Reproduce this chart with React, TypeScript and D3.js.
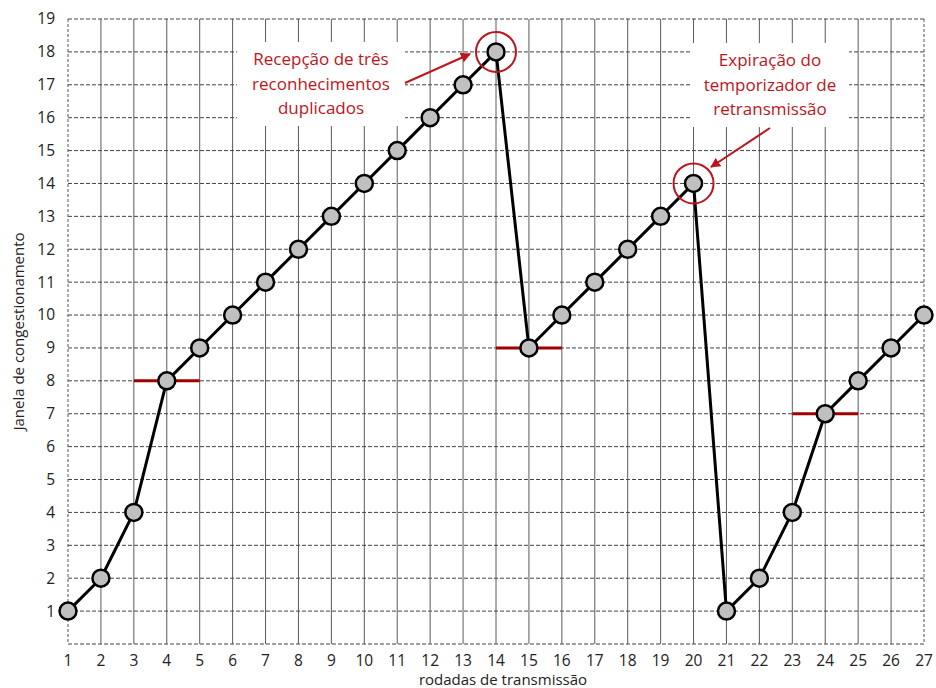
import React from "react";
import * as d3 from "d3";

const rounds = d3.range(1, 28);
const cwnd = [1, 2, 4, 8, 9, 10, 11, 12, 13, 14, 15, 16, 17, 18, 9, 10, 11, 12, 13, 14, 1, 2, 4, 7, 8, 9, 10];
const thresholds = [
  { from: 3, to: 5, value: 8 },
  { from: 14, to: 16, value: 9 },
  { from: 23, to: 25, value: 7 },
];
const yTicks = d3.range(1, 20);
const xTicks = d3.range(1, 28);
const notes = [
  { lines: ["Recepção de três", "reconhecimentos", "duplicados"], round: 14, cx: 321, cy: 84, bw: 168, from: [405, 83], to: [470, 54] },
  { lines: ["Expiração do", "temporizador de", "retransmissão"], round: 20, cx: 770, cy: 85, bw: 158, from: [770, 128], to: [711, 167] },
];

const W = 936, H = 688;
const x = d3.scaleLinear().domain([1, 27]).range([68, 924]);
const y = d3.scaleLinear().domain([0, 19]).range([644, 19]);
const font = "Open Sans, Liberation Sans, sans-serif";
const red = "#c0141c";

export default function App() {
  const line = d3.line<number>().x((_, i) => x(rounds[i])).y((d) => y(d));
  return (
    <svg width={W} height={H} style={{ position: "absolute", left: 0, top: 0, background: "#fff" }} fontFamily={font}>
      <defs>
        <marker id="ah" viewBox="0 0 10 10" refX="9" refY="5" markerWidth="5" markerHeight="5" orient="auto">
          <path d="M0,0 L10,5 L0,10 z" fill={red} />
        </marker>
      </defs>
      {xTicks.map((t) => (
        <line key={"v" + t} x1={x(t)} x2={x(t)} y1={y(19)} y2={y(0)} stroke={t === 1 || t === 27 ? "#555" : "#333"} strokeWidth={1}
          strokeDasharray={t === 1 || t === 27 ? "3,2" : undefined} opacity={t === 1 || t === 27 ? 1 : 0.8} />
      ))}
      {[0, ...yTicks].map((t) => (
        <line key={"h" + t} x1={x(1)} x2={x(27)} y1={y(t)} y2={y(t)} stroke="#444" strokeWidth={1} strokeDasharray="4,2" />
      ))}
      {yTicks.map((t) => (
        <text key={"yl" + t} x={55} y={y(t)} dy="0.35em" textAnchor="end" fontSize={15.5} fill="#222">{t}</text>
      ))}
      {xTicks.map((t) => (
        <text key={"xl" + t} x={x(t)} y={661} dy="0.35em" textAnchor="middle" fontSize={15.5} fill="#222">{t}</text>
      ))}
      <text x={503} y={680} dy="0.35em" textAnchor="middle" fontSize={15} fill="#222">rodadas de transmissão</text>
      <text transform={`translate(19,${y(9.5)}) rotate(-90)`} dy="0.35em" textAnchor="middle" fontSize={15} fill="#222">Janela de congestionamento</text>
      {thresholds.map((t, i) => (
        <line key={"th" + i} x1={x(t.from)} x2={x(t.to)} y1={y(t.value)} y2={y(t.value)} stroke="#a00000" strokeWidth={3} />
      ))}
      {notes.map((n, i) => (
        <g key={"n" + i}>
          <rect x={n.cx - n.bw / 2} y={n.cy - 42} width={n.bw} height={84} fill="#fff" />
          {n.lines.map((l, j) => (
            <text key={j} x={n.cx} y={n.cy + (j - 1) * 24.5} dy="0.35em" textAnchor="middle" fontSize={17} fill={red}>{l}</text>
          ))}
        </g>
      ))}
      <path d={line(cwnd) || ""} fill="none" stroke="#000" strokeWidth={3} strokeLinejoin="round" />
      {cwnd.map((v, i) => (
        <circle key={"p" + i} cx={x(rounds[i])} cy={y(v)} r={8.5} fill="#c0c0c0" stroke="#000" strokeWidth={2.5} />
      ))}
      {notes.map((n, i) => (
        <g key={"c" + i}>
          <circle cx={x(n.round)} cy={y(cwnd[n.round - 1])} r={20} fill="none" stroke={red} strokeWidth={2} />
          <line x1={n.from[0]} y1={n.from[1]} x2={n.to[0]} y2={n.to[1]} stroke={red} strokeWidth={2} markerEnd="url(#ah)" />
        </g>
      ))}
    </svg>
  );
}
